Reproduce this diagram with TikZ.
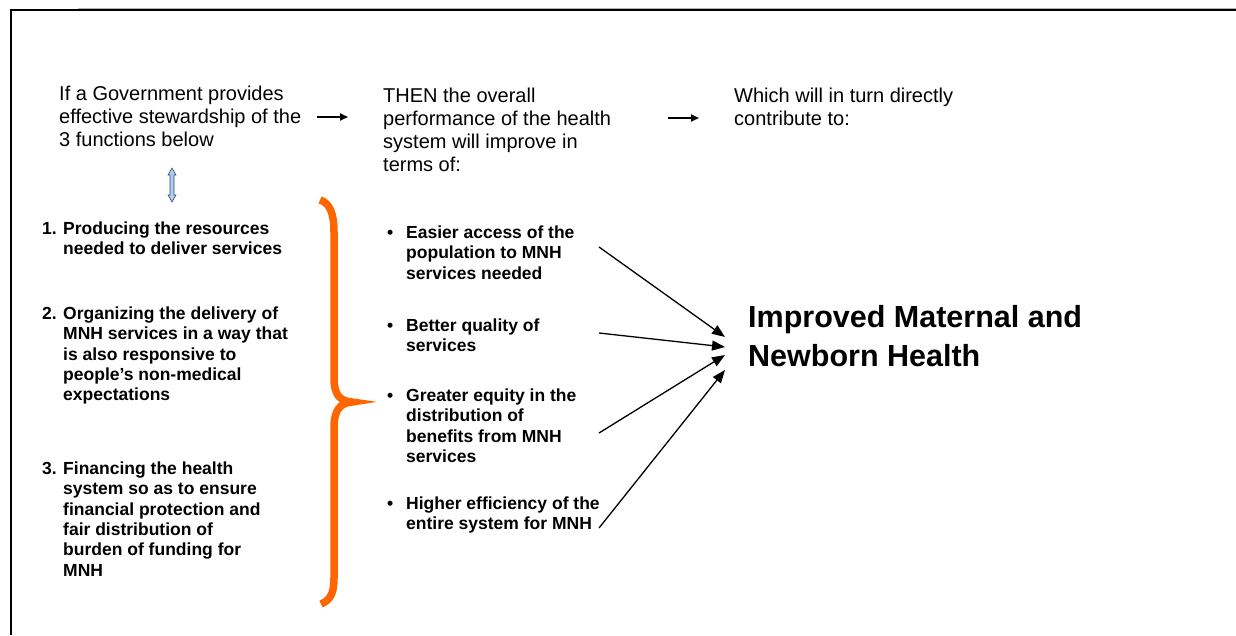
\documentclass[tikz,border=0pt]{standalone}
\usepackage{fontspec}
\setmainfont{Liberation Sans}
\usetikzlibrary{arrows.meta}
\definecolor{braceorange}{HTML}{FF6600}
\definecolor{arrowblue}{HTML}{A9CFF5}
\definecolor{arrowedge}{HTML}{3C4A5A}
\tikzset{
  plain/.style={font=\fontsize{20}{23}\selectfont, align=left, inner sep=0pt, anchor=base west},
  itemtext/.style={font=\bfseries\fontsize{17.5}{20.3}\selectfont, align=left, inner sep=0pt, anchor=base west},
  bigtext/.style={font=\bfseries\fontsize{30.5}{39}\selectfont, align=left, inner sep=0pt, anchor=base west},
  conn/.style={-{Triangle[length=13pt,width=10pt]}, line width=1.3pt},
  smallarrow/.style={-{Triangle[length=8pt,width=7pt]}, line width=1.8pt},
  bracestyle/.style={draw=braceorange, line width=7.5pt},
}
\begin{document}
\begin{tikzpicture}[x=1pt,y=-1pt]
\useasboundingbox (0,0) rectangle (1236,635);
% frame
\draw[gray!60, line width=1pt] (78,8.3) -- (1236,8.3);
\draw[black, line width=2pt] (11,10) -- (1236,10);
\draw[black, line width=2pt] (11,9) -- (11,635);

% top texts (anchor = baseline of the last line)
\node[plain] (gov) at (59,146) {If a Government provides\\effective stewardship of the\\3 functions below};
\node[plain] (then) at (383,171) {THEN the overall\\performance of the health\\system will improve in\\terms of:};
\node[plain] (which) at (734,125) {Which will in turn directly\\contribute to:};

\coordinate (a1s) at (317,117);
\coordinate (a1e) at (348,117);
\coordinate (a2s) at (668,118);
\coordinate (a2e) at (699,118);
\draw[smallarrow] (a1s) -- (a1e);
\draw[smallarrow] (a2s) -- (a2e);

% double block arrow
\draw[fill=arrowblue, draw=arrowedge, line width=0.6pt]
  (170,175) -- (168,175) -- (172,168) -- (176,175) -- (174,175) -- (174,195)
  -- (176,195) -- (172,202) -- (168,195) -- (170,195) -- cycle;

% numbered list
\node[itemtext] (n1) at (42,234) {1.};
\node[itemtext] (f1) at (63,254.3) {Producing the resources\\needed to deliver services};
\node[itemtext] (n2) at (42,319.5) {2.};
\node[itemtext] (f2) at (63,400.7) {Organizing the delivery of\\MNH services in a way that\\is also responsive to\\people’s non-medical\\expectations};
\node[itemtext] (n3) at (42,474.5) {3.};
\node[itemtext] (f3) at (63,576) {Financing the health\\system so as to ensure\\financial protection and\\fair distribution of\\burden of funding for\\MNH};

% brace
\draw[bracestyle] (320,200) .. controls (330,203) and (334,214) .. (334,232)
  -- (334,378) .. controls (334,395) and (340,401) .. (352,402)
  .. controls (340,403) and (334,410) .. (334,428)
  -- (334,578) .. controls (334,592) and (331,600) .. (321,604);

% bullets
\node[itemtext] (b1) at (387,238.5) {•};
\node[itemtext] (p1) at (406,279.1) {Easier access of the\\population to MNH\\services needed};
\node[itemtext] (b2) at (387,331.5) {•};
\node[itemtext] (p2) at (406,351.8) {Better quality of\\services};
\node[itemtext] (b3) at (387,401.5) {•};
\node[itemtext] (p3) at (406,462.4) {Greater equity in the\\distribution of\\benefits from MNH\\services};
\node[itemtext] (b4) at (387,509.5) {•};
\node[itemtext] (p4) at (406,529.8) {Higher efficiency of the\\entire system for MNH};

% outcome
\node[bigtext] (out) at (748,366) {Improved Maternal and\\Newborn Health};

\coordinate (s1) at (599,247);
\coordinate (s2) at (599,333);
\coordinate (s3) at (599,433);
\coordinate (s4) at (599,528);
\coordinate (t1) at (725,337);
\coordinate (t2) at (725,347);
\coordinate (t3) at (725,355);
\coordinate (t4) at (725,370);
\draw[conn] (s1) -- (t1);
\draw[conn] (s2) -- (t2);
\draw[conn] (s3) -- (t3);
\draw[conn] (s4) -- (t4);
\end{tikzpicture}
\end{document}
